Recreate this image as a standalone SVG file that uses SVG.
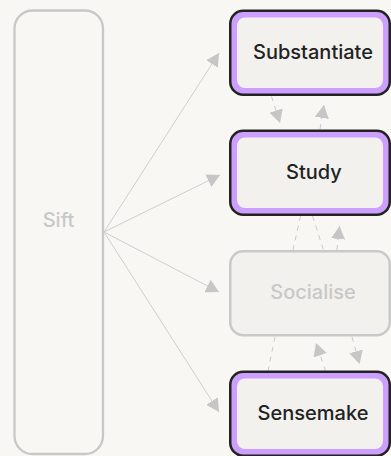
<svg xmlns="http://www.w3.org/2000/svg" width="391" height="456" viewBox="0 0 391 456">
<style>
.bg{fill:#f8f7f4}
.sift{fill:none;stroke:#c8c8c8;stroke-width:2.3}
.outer{fill:#cd9ffc;stroke:#232323;stroke-width:2.5}
.inner{fill:#f2f1ee}
.dim{fill:#f2f1ee;stroke:#c9c9c9;stroke-width:2.5}
.fan{stroke:#cfcfcf;stroke-width:1;fill:none}
.dash{stroke:#cacaca;stroke-width:1;fill:none;stroke-dasharray:5 5}
text{font-family:Inter,"Liberation Sans",Arial,sans-serif;font-weight:500;font-size:20px;text-anchor:middle}
.dark{fill:#222222}
.light{fill:#c8c8c8}
</style>
<defs>
<marker id="ah" markerUnits="userSpaceOnUse" markerWidth="14" markerHeight="14" refX="13" refY="7" orient="auto" viewBox="0 0 14 14">
<path d="M0,0 L13,7 L0,14 z" fill="#c6c6c6"/>
</marker>
</defs>
<rect class="bg" x="0" y="0" width="391" height="456"/>
<g id="connectors">
<line class="fan" x1="104" y1="232" x2="219" y2="53" marker-end="url(#ah)"/>
<line class="fan" x1="104" y1="232" x2="220" y2="175" marker-end="url(#ah)"/>
<line class="fan" x1="104" y1="232" x2="219" y2="292" marker-end="url(#ah)"/>
<line class="fan" x1="104" y1="232" x2="219" y2="412" marker-end="url(#ah)"/>
<line class="dash" x1="271.5" y1="96.5" x2="280" y2="123" marker-end="url(#ah)"/>
<line class="dash" x1="320" y1="129" x2="324" y2="105" marker-end="url(#ah)"/>
<line class="dash" x1="300.5" y1="216" x2="293" y2="250"/>
<line class="dash" x1="312.5" y1="216" x2="323.5" y2="250"/>
<line class="dash" x1="337" y1="250" x2="339.5" y2="226" marker-end="url(#ah)"/>
<line class="dash" x1="275" y1="337" x2="268" y2="371"/>
<line class="dash" x1="325.5" y1="371" x2="316" y2="343" marker-end="url(#ah)"/>
<line class="dash" x1="352" y1="337" x2="359.5" y2="364" marker-end="url(#ah)"/>
</g>
<g id="sift">
<rect class="sift" x="14.5" y="10.5" width="88.5" height="443.5" rx="18"/>
<text class="light" x="58.5" y="227">Sift</text>
</g>
<g id="substantiate">
<rect class="outer" x="230.25" y="10.75" width="159.5" height="84" rx="13"/>
<rect class="inner" x="237" y="17.5" width="146" height="70.5" rx="8"/>
<text class="dark" x="313" y="58.5">Substantiate</text>
</g>
<g id="study">
<rect class="outer" x="230.25" y="130.75" width="159.5" height="84" rx="13"/>
<rect class="inner" x="237" y="137.5" width="146" height="70.5" rx="8"/>
<text class="dark" x="314" y="179">Study</text>
</g>
<g id="socialise">
<rect class="dim" x="230.25" y="251.25" width="159.5" height="84" rx="13"/>
<text class="light" x="313" y="299">Socialise</text>
</g>
<g id="sensemake">
<rect class="outer" x="230.25" y="371.75" width="159.5" height="84" rx="13"/>
<rect class="inner" x="237" y="378.5" width="146" height="70.5" rx="8"/>
<text class="dark" x="313" y="420">Sensemake</text>
</g>
</svg>
